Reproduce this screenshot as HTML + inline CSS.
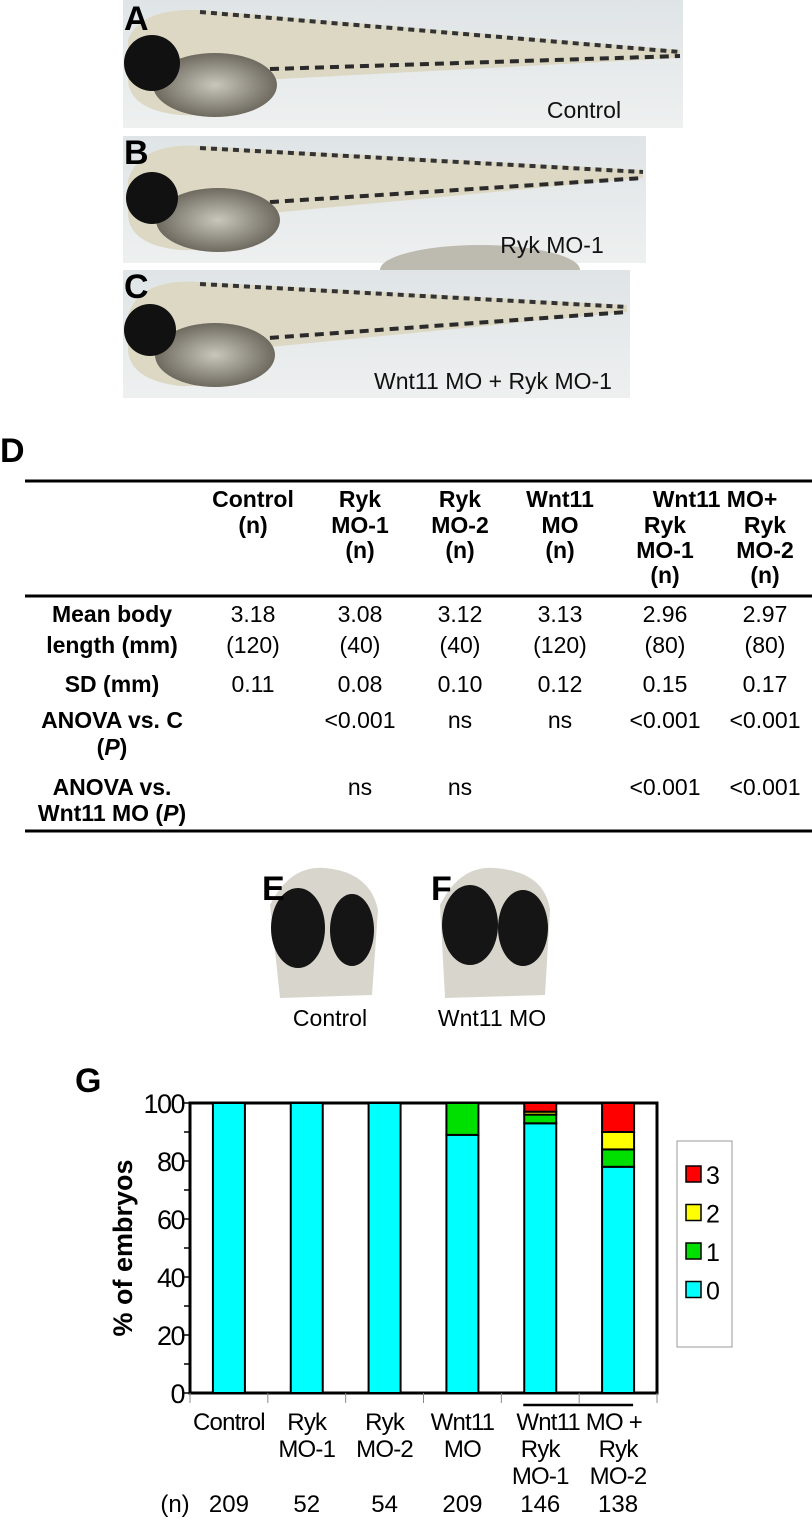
<!DOCTYPE html>
<html><head><meta charset="utf-8"><style>
body{margin:0;background:#fff;}
svg{display:block;font-family:"Liberation Sans",Arial,sans-serif;}
</style></head><body>
<svg id="fig" width="812" height="1520" viewBox="0 0 812 1520">
<defs>
<linearGradient id="bgA" x1="0" y1="0" x2="0" y2="1"><stop offset="0" stop-color="#dfe4e6"/><stop offset="1" stop-color="#eef0f0"/></linearGradient>
<radialGradient id="yolk" cx="0.5" cy="0.5" r="0.5"><stop offset="0" stop-color="#c9c6bb"/><stop offset="1" stop-color="#6e6a60"/></radialGradient>
</defs>

<g>
<rect x="123" y="0" width="560" height="128" fill="url(#bgA)"/>
<path d="M128,40 Q140,8 200,10 L680,50 L680,58 L260,80 Q240,118 180,115 Q130,110 128,80 Z" fill="#dcd8c4"/>
<path d="M200,12 L680,52" stroke="#333" stroke-width="4" stroke-dasharray="6 5"/>
<path d="M240,70 L680,56" stroke="#2a2a2a" stroke-width="4" stroke-dasharray="9 6"/>
<ellipse cx="215" cy="85" rx="62" ry="32" fill="url(#yolk)"/>
<circle cx="152" cy="63" r="28" fill="#111"/>
<text x="584" y="118" font-size="23" text-anchor="middle" fill="#111">Control</text>
</g>
<text x="124" y="30" font-size="34" font-weight="bold">A</text>

<g>
<rect x="123" y="136" width="523" height="127" fill="url(#bgA)"/>
<path d="M128,180 Q140,142 200,146 L643,170 L643,178 L260,214 Q240,252 180,250 Q130,245 128,215 Z" fill="#dcd8c4"/>
<path d="M200,148 L643,172" stroke="#333" stroke-width="4" stroke-dasharray="6 5"/>
<path d="M240,204 L643,178" stroke="#2a2a2a" stroke-width="4" stroke-dasharray="9 6"/>
<ellipse cx="218" cy="220" rx="62" ry="32" fill="url(#yolk)"/>
<ellipse cx="480" cy="270" rx="100" ry="25" fill="#bdbab0"/>
<circle cx="152" cy="198" r="26" fill="#111"/>
<text x="552" y="253" font-size="23" text-anchor="middle" fill="#111">Ryk MO-1</text>
</g>
<text x="124" y="164" font-size="34" font-weight="bold">B</text>

<g>
<rect x="123" y="270" width="507" height="128" fill="url(#bgA)"/>
<path d="M128,315 Q140,278 200,282 L627,305 L627,312 L260,348 Q240,388 180,386 Q130,380 128,350 Z" fill="#dcd8c4"/>
<path d="M200,284 L627,307" stroke="#333" stroke-width="4" stroke-dasharray="6 5"/>
<path d="M240,340 L627,312" stroke="#2a2a2a" stroke-width="4" stroke-dasharray="9 6"/>
<ellipse cx="215" cy="355" rx="60" ry="32" fill="url(#yolk)"/>
<circle cx="150" cy="330" r="26" fill="#111"/>
<text x="493" y="389" font-size="23" text-anchor="middle" fill="#111">Wnt11 MO + Ryk MO-1</text>
</g>
<text x="124" y="298" font-size="34" font-weight="bold">C</text>

<text x="0" y="462" font-size="34" font-weight="bold">D</text>
<g font-size="23">
<line x1="25" y1="481" x2="812" y2="481" stroke="#000" stroke-width="3"/>
<line x1="25" y1="596" x2="812" y2="596" stroke="#000" stroke-width="3"/>
<line x1="25" y1="831" x2="812" y2="831" stroke="#000" stroke-width="3"/>
<g font-weight="bold" text-anchor="middle">
<text x="253" y="507">Control</text><text x="253" y="533">(n)</text>
<text x="360" y="507">Ryk</text><text x="360" y="533">MO-1</text><text x="360" y="558">(n)</text>
<text x="460" y="507">Ryk</text><text x="460" y="533">MO-2</text><text x="460" y="558">(n)</text>
<text x="560" y="507">Wnt11</text><text x="560" y="533">MO</text><text x="560" y="558">(n)</text>
<text x="715" y="507">Wnt11 MO+</text>
<text x="665" y="533">Ryk</text><text x="665" y="558">MO-1</text><text x="665" y="583">(n)</text>
<text x="765" y="533">Ryk</text><text x="765" y="558">MO-2</text><text x="765" y="583">(n)</text>
</g>
<g font-weight="bold" text-anchor="middle">
<text x="112" y="622">Mean body</text><text x="112" y="653">length (mm)</text>
<text x="112" y="692">SD (mm)</text>
<text x="112" y="728">ANOVA vs. C</text><text x="112" y="755">(<tspan font-style="italic">P</tspan>)</text>
<text x="112" y="795">ANOVA vs.</text><text x="112" y="821">Wnt11 MO (<tspan font-style="italic">P</tspan>)</text>
</g>
<g text-anchor="middle">
<text x="253" y="622">3.18</text><text x="253" y="653">(120)</text>
<text x="360" y="622">3.08</text><text x="360" y="653">(40)</text>
<text x="460" y="622">3.12</text><text x="460" y="653">(40)</text>
<text x="560" y="622">3.13</text><text x="560" y="653">(120)</text>
<text x="665" y="622">2.96</text><text x="665" y="653">(80)</text>
<text x="765" y="622">2.97</text><text x="765" y="653">(80)</text>
<text x="253" y="692">0.11</text><text x="360" y="692">0.08</text><text x="460" y="692">0.10</text>
<text x="560" y="692">0.12</text><text x="665" y="692">0.15</text><text x="765" y="692">0.17</text>
<text x="360" y="728">&lt;0.001</text><text x="460" y="728">ns</text><text x="560" y="728">ns</text>
<text x="665" y="728">&lt;0.001</text><text x="765" y="728">&lt;0.001</text>
<text x="360" y="795">ns</text><text x="460" y="795">ns</text>
<text x="665" y="795">&lt;0.001</text><text x="765" y="795">&lt;0.001</text>
</g>
</g>

<g>
<path d="M270,905 Q290,865 325,868 Q370,872 378,910 L372,995 L280,998 Z" fill="#d8d6cc"/>
<ellipse cx="298" cy="928" rx="27" ry="40" fill="#151515"/>
<ellipse cx="352" cy="930" rx="22" ry="36" fill="#151515"/>
<text x="330" y="1026" font-size="23" text-anchor="middle">Control</text>
</g>
<text x="262" y="900" font-size="34" font-weight="bold">E</text>
<g>
<path d="M440,905 Q460,865 495,868 Q545,872 550,910 L545,995 L445,998 Z" fill="#d8d6cc"/>
<ellipse cx="470" cy="925" rx="28" ry="40" fill="#151515"/>
<ellipse cx="523" cy="928" rx="25" ry="38" fill="#151515"/>
<text x="492" y="1026" font-size="23" text-anchor="middle">Wnt11 MO</text>
</g>
<text x="431" y="900" font-size="34" font-weight="bold">F</text>

<text x="75" y="1092" font-size="34" font-weight="bold">G</text>
<g id="chart"></g>
</svg>
<script>
const categories = [["Control"],["Ryk","MO-1"],["Ryk","MO-2"],["Wnt11","MO"],["Ryk","MO-1"],["Ryk","MO-2"]];
const score0 = [100, 100, 100, 89, 93, 78];
const score1 = [0, 0, 0, 11, 3, 6];
const score2 = [0, 0, 0, 0, 1, 6];
const score3 = [0, 0, 0, 0, 3, 10];
const nCounts = ["209","52","54","209","146","138"];
const yTicks = [0, 20, 40, 60, 80, 100];
const legendLabels = ["3","2","1","0"];

const NS = "http://www.w3.org/2000/svg";
const g = document.getElementById("chart");
const L = 190, R = 657, T = 1103, B = 1393;
const y = v => B - (v / 100) * (B - T);
const bw = (R - L) / categories.length;
const xc = i => L + bw * (i + 0.5);
function mk(tag, attrs, parent) {
  const e = document.createElementNS(NS, tag);
  for (const k in attrs) e.setAttribute(k, attrs[k]);
  (parent || g).appendChild(e);
  return e;
}
const colors = ["#00ffff", "#00e000", "#ffff00", "#ff0000"];
const series = [score0, score1, score2, score3];
const names = ["score-0", "score-1", "score-2", "score-3"];

let fr = mk("rect", {x: L, y: T, width: R - L, height: B - T, fill: "#fff", stroke: "#000", "stroke-width": 3});



categories.forEach((c, i) => {
  let base = 0;
  series.forEach((s, k) => {
    const v = s[i];
    if (v <= 0) return;
    const r = mk("rect", {x: xc(i) - 16, y: y(base + v), width: 32, height: y(base) - y(base + v), fill: colors[k], stroke: "#000", "stroke-width": 2});
    
    
    base += v;
  });
});

for (let v = 0; v <= 100; v += 10) {
  const major = v % 20 === 0;
  const t = mk("line", {x1: L - (major ? 8 : 6), x2: L, y1: y(v), y2: y(v), stroke: "#000", "stroke-width": 1.5});
  
  
}
yTicks.forEach(v => {
  const t = mk("text", {x: L - 6, y: y(v) + 10, "font-size": 27, "text-anchor": "end", "letter-spacing": -1.5});
  t.textContent = v;
  
  
});
for (let i = 0; i <= categories.length; i++) {
  const t = mk("line", {x1: L + bw * i, x2: L + bw * i, y1: B, y2: B + 10, stroke: "#888", "stroke-width": 1});
  
  
}
const yt = mk("text", {x: 0, y: 0, "font-size": 27, "font-weight": "bold", "text-anchor": "middle", transform: "translate(132," + ((T + B) / 2) + ") rotate(-90)"});
yt.textContent = "% of embryos";



categories.forEach((c, i) => {
  const startRow = (i === 4 || i === 5) ? 1 : 0;
  c.forEach((line, j) => {
    const t = mk("text", {x: xc(i), y: 1430 + (startRow + j) * 27, "font-size": 24, "text-anchor": "middle", "letter-spacing": -0.8});
    t.textContent = line;
    
    
  });
});
const gl = mk("text", {x: (xc(4) + xc(5)) / 2, y: 1430, "font-size": 24, "text-anchor": "middle", "letter-spacing": -0.8});
gl.textContent = "Wnt11 MO +";


const ol = mk("line", {x1: xc(4) - 17, x2: xc(5) + 15, y1: 1405, y2: 1405, stroke: "#000", "stroke-width": 2.5});



const nl = mk("text", {x: 175, y: 1512, "font-size": 24, "text-anchor": "middle"});
nl.textContent = "(n)";


nCounts.forEach((n, i) => {
  const t = mk("text", {x: xc(i), y: 1512, "font-size": 24, "text-anchor": "middle"});
  t.textContent = n;
  
  
});

const lg = mk("rect", {x: 677, y: 1141, width: 55, height: 206, fill: "#fff", stroke: "#999", "stroke-width": 1});


legendLabels.forEach((lab, j) => {
  const k = 3 - j;
  const yy = 1175 + j * 38.5;
  const sw = mk("rect", {x: 686, y: yy - 9, width: 15, height: 16, fill: colors[k], stroke: "#000", "stroke-width": 1.5});
  
  
  const t = mk("text", {x: 706, y: yy + 9, "font-size": 25});
  t.textContent = lab;
  
  
});
</script>
</body></html>
